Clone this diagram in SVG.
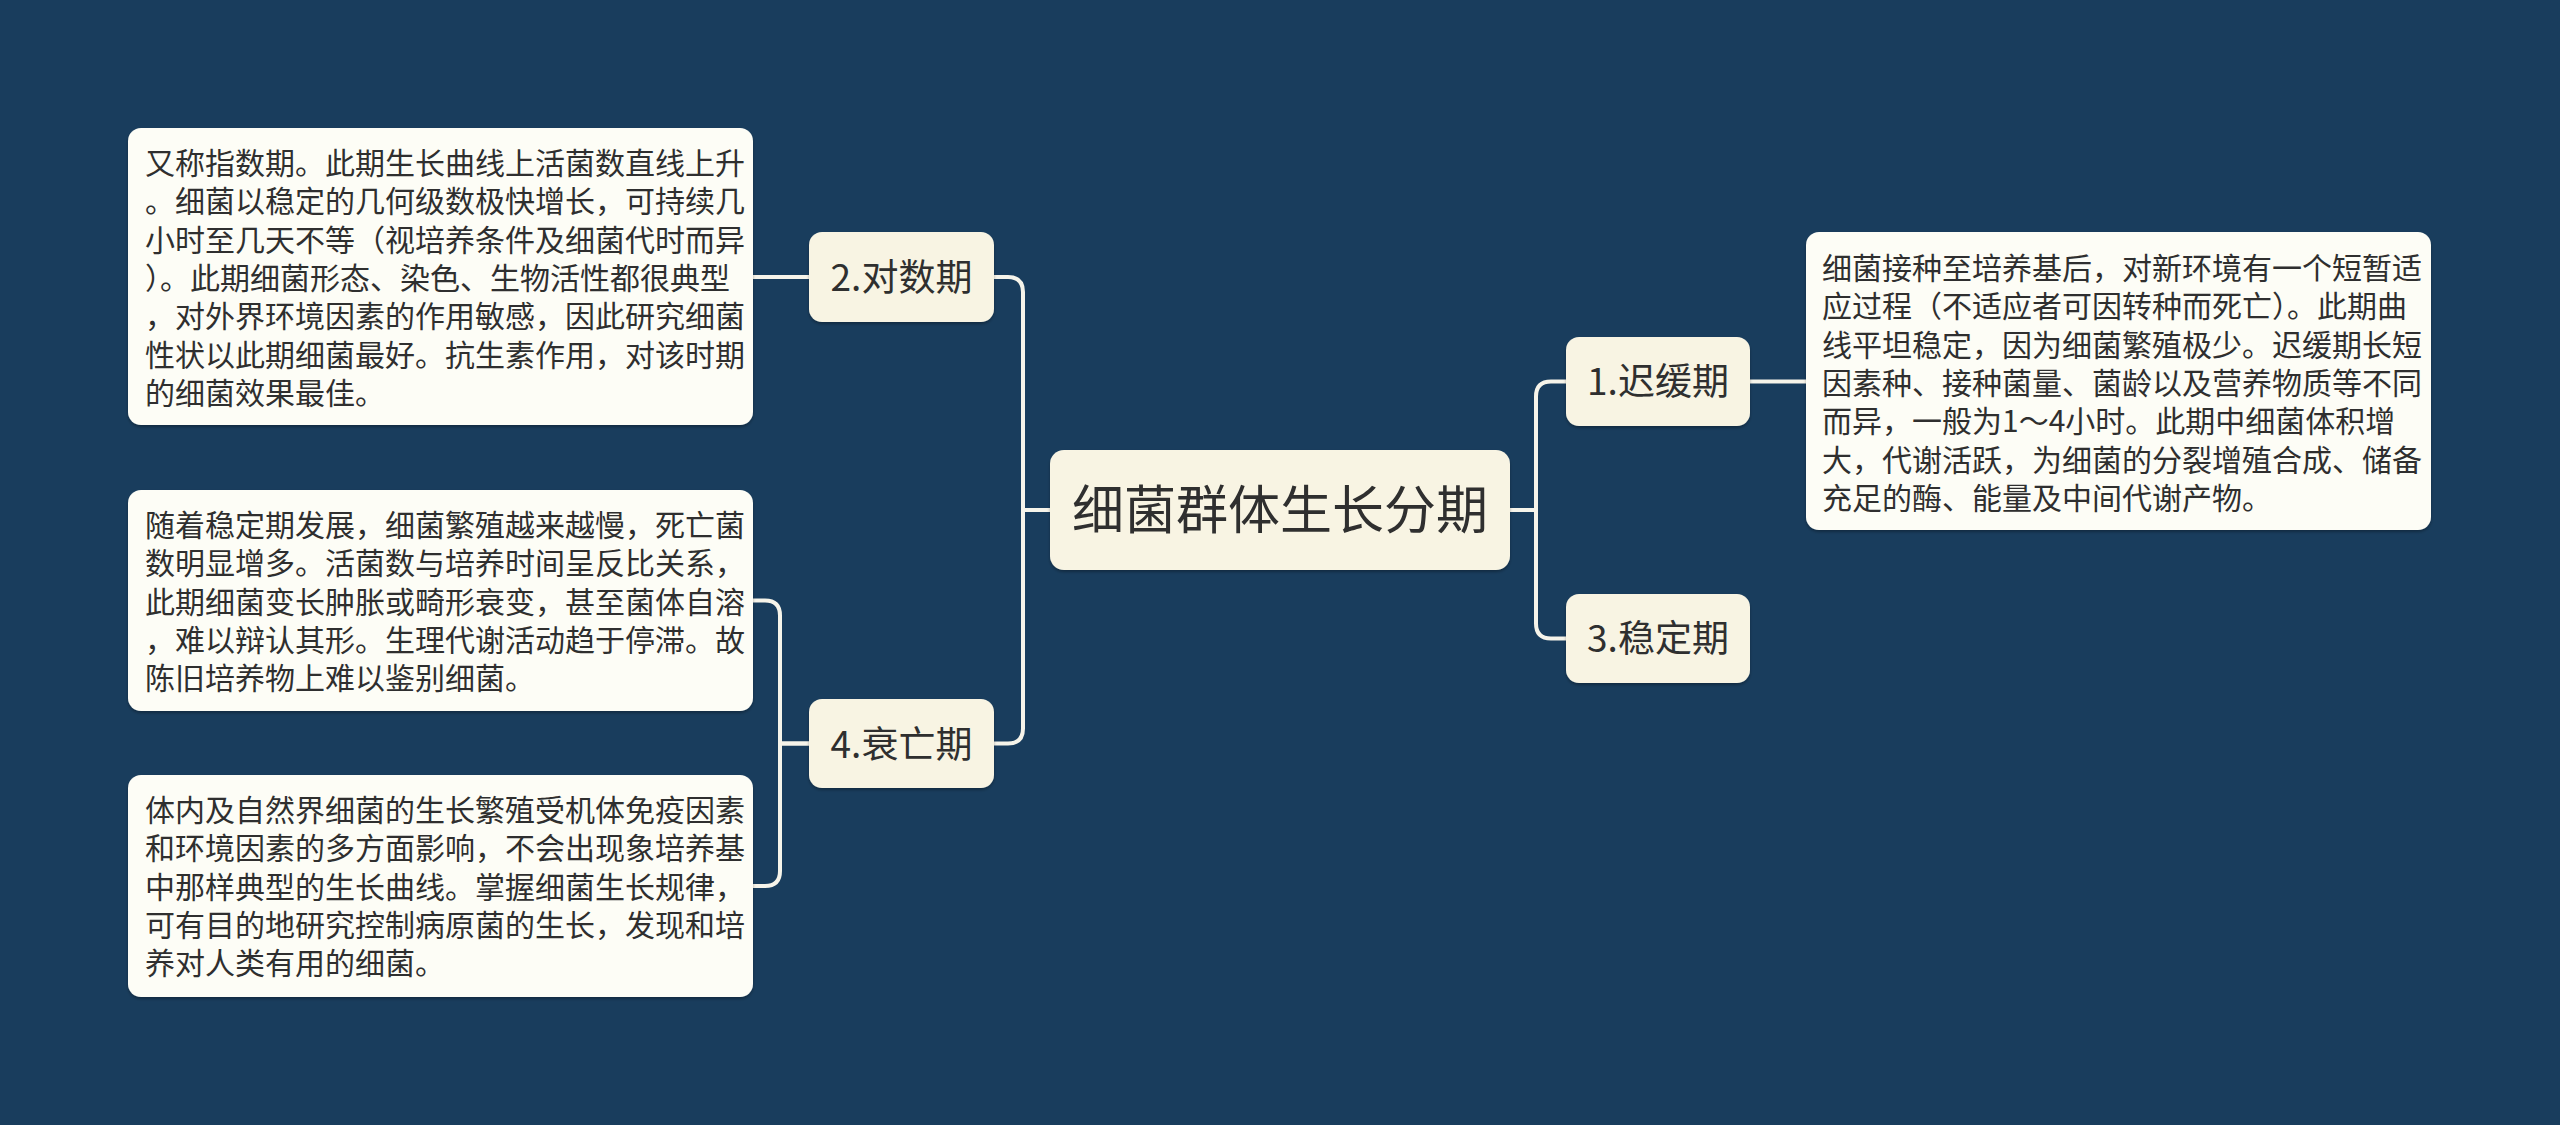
<svg xmlns="http://www.w3.org/2000/svg" width="2560" height="1125" viewBox="0 0 2560 1125">
<defs>
<style>
.bg{fill:#193d5d}
.main{fill:#f8f4e3}
.sub{fill:#f8f4e3}
.note{fill:#fdfdf6}
.ln{fill:none;stroke:#f6f4ea;stroke-width:4;stroke-linecap:round;stroke-linejoin:round}
text{font-family:"Noto Sans CJK SC","Noto Sans",sans-serif;fill:#2f2f2f}
.t0{font-size:52px;text-anchor:middle}
.t1{font-size:37px;text-anchor:middle}
.t2{font-size:30px}
</style>
<filter id="sh" x="-5%" y="-5%" width="110%" height="115%">
<feDropShadow dx="0" dy="2" stdDeviation="1.5" flood-color="#000" flood-opacity="0.3"/>
</filter>
</defs>
<rect class="bg" x="0" y="0" width="2560" height="1125"/>
<g id="connectors">
<path class="ln" d="M1050,510 H1023 V292 Q1023,277 1008,277 H994"/>
<path class="ln" d="M1050,510 H1023 V728.5 Q1023,743.5 1008,743.5 H994"/>
<path class="ln" d="M1509,510 H1536 V396.5 Q1536,381.5 1551,381.5 H1566"/>
<path class="ln" d="M1509,510 H1536 V623.5 Q1536,638.5 1551,638.5 H1566"/>
<path class="ln" d="M1750,381.5 H1806"/>
<path class="ln" d="M809,277 H753"/>
<path class="ln" d="M809,743.5 H780 V615.5 Q780,600.5 765,600.5 H753"/>
<path class="ln" d="M809,743.5 H780 V871 Q780,886 765,886 H753"/>
</g>
<g id="root">
<rect class="main" x="1050" y="450" width="460" height="120" rx="14" filter="url(#sh)"/>
<text class="t0" x="1280" y="529">细菌群体生长分期</text>
</g>
<g id="n2">
<rect class="sub" x="809" y="232" width="185" height="90" rx="13" filter="url(#sh)"/>
<text class="t1" x="901.5" y="291">2.对数期</text>
</g>
<g id="n4">
<rect class="sub" x="809" y="699" width="185" height="89" rx="13" filter="url(#sh)"/>
<text class="t1" x="901.5" y="757.5">4.衰亡期</text>
</g>
<g id="n1">
<rect class="sub" x="1566" y="337" width="184" height="89" rx="13" filter="url(#sh)"/>
<text class="t1" x="1658" y="395">1.迟缓期</text>
</g>
<g id="n3">
<rect class="sub" x="1566" y="594" width="184" height="89" rx="13" filter="url(#sh)"/>
<text class="t1" x="1658" y="652">3.稳定期</text>
</g>
<g id="note2">
<rect class="note" x="128" y="128" width="625" height="297" rx="13" filter="url(#sh)"/>
<text class="t2">
<tspan x="145" y="174">又称指数期。此期生长曲线上活菌数直线上升</tspan>
<tspan x="145" y="212.33">。细菌以稳定的几何级数极快增长，可持续几</tspan>
<tspan x="145" y="250.67">小时至几天不等（视培养条件及细菌代时而异</tspan>
<tspan x="145" y="289">）。此期细菌形态、染色、生物活性都很典型</tspan>
<tspan x="145" y="327.33">，对外界环境因素的作用敏感，因此研究细菌</tspan>
<tspan x="145" y="365.67">性状以此期细菌最好。抗生素作用，对该时期</tspan>
<tspan x="145" y="404">的细菌效果最佳。</tspan>
</text>
</g>
<g id="note4a">
<rect class="note" x="128" y="490" width="625" height="221" rx="13" filter="url(#sh)"/>
<text class="t2">
<tspan x="145" y="536">随着稳定期发展，细菌繁殖越来越慢，死亡菌</tspan>
<tspan x="145" y="574.33">数明显增多。活菌数与培养时间呈反比关系，</tspan>
<tspan x="145" y="612.67">此期细菌变长肿胀或畸形衰变，甚至菌体自溶</tspan>
<tspan x="145" y="651">，难以辩认其形。生理代谢活动趋于停滞。故</tspan>
<tspan x="145" y="689.33">陈旧培养物上难以鉴别细菌。</tspan>
</text>
</g>
<g id="note4b">
<rect class="note" x="128" y="775" width="625" height="222" rx="13" filter="url(#sh)"/>
<text class="t2">
<tspan x="145" y="821">体内及自然界细菌的生长繁殖受机体免疫因素</tspan>
<tspan x="145" y="859.33">和环境因素的多方面影响，不会出现象培养基</tspan>
<tspan x="145" y="897.67">中那样典型的生长曲线。掌握细菌生长规律，</tspan>
<tspan x="145" y="936">可有目的地研究控制病原菌的生长，发现和培</tspan>
<tspan x="145" y="974.33">养对人类有用的细菌。</tspan>
</text>
</g>
<g id="note1">
<rect class="note" x="1806" y="232" width="625" height="298" rx="13" filter="url(#sh)"/>
<text class="t2">
<tspan x="1822" y="279">细菌接种至培养基后，对新环境有一个短暂适</tspan>
<tspan x="1822" y="317.33">应过程（不适应者可因转种而死亡）。此期曲</tspan>
<tspan x="1822" y="355.67">线平坦稳定，因为细菌繁殖极少。迟缓期长短</tspan>
<tspan x="1822" y="394">因素种、接种菌量、菌龄以及营养物质等不同</tspan>
<tspan x="1822" y="432.33">而异，一般为1～4小时。此期中细菌体积增</tspan>
<tspan x="1822" y="470.67">大，代谢活跃，为细菌的分裂增殖合成、储备</tspan>
<tspan x="1822" y="509">充足的酶、能量及中间代谢产物。</tspan>
</text>
</g>
</svg>
